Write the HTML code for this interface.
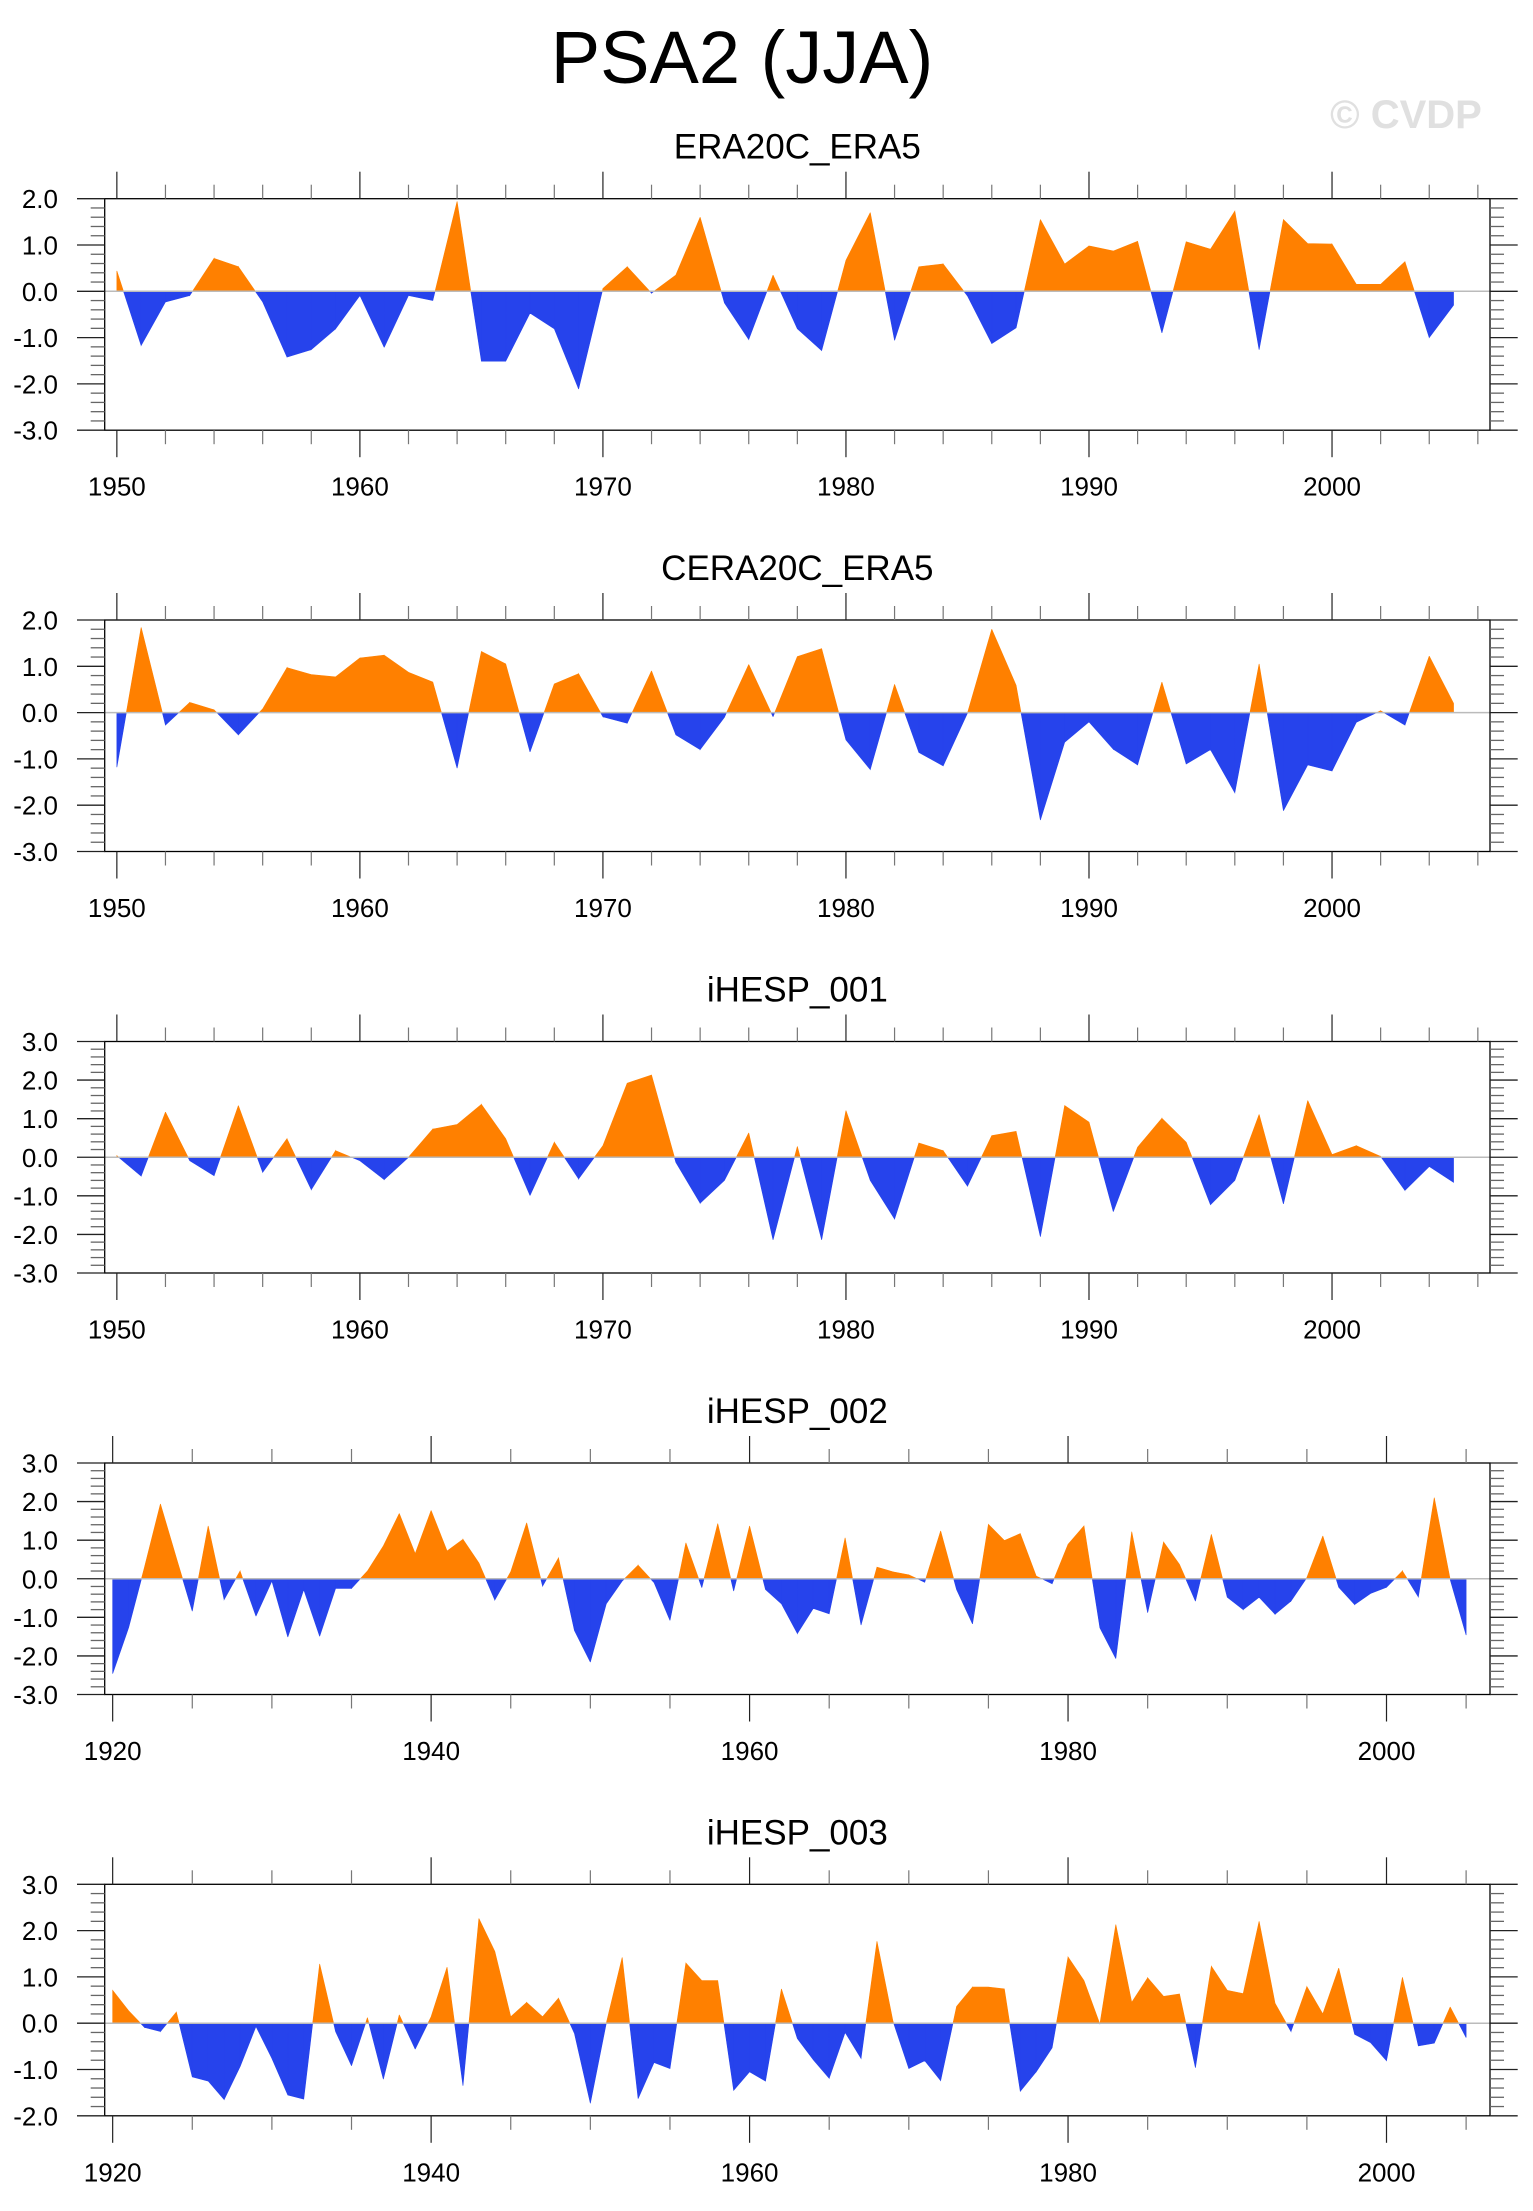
<!DOCTYPE html>
<html><head><meta charset="utf-8"><title>PSA2 (JJA)</title>
<style>
html,body{margin:0;padding:0;background:#fff;}
svg{display:block;font-family:"Liberation Sans",sans-serif;}
</style></head>
<body>
<svg id="chart" width="1533" height="2211" viewBox="0 0 1533 2211" xmlns="http://www.w3.org/2000/svg">
<rect width="1533" height="2211" fill="#fff"/>
<text x="742" y="83" font-size="74" text-anchor="middle" fill="#000">PSA2 (JJA)</text>
<text x="1406" y="128" font-size="40" font-weight="bold" text-anchor="middle" fill="#e0e0e0">© CVDP</text>
</svg>
<script>
const titles = ["ERA20C_ERA5","CERA20C_ERA5","iHESP_001","iHESP_002","iHESP_003"];
const startYears = [1950,1950,1950,1920,1920];
const yTickLabels1 = ["2.0","1.0","0.0","-1.0","-2.0","-3.0"];
const yTickLabels3 = ["3.0","2.0","1.0","0.0","-1.0","-2.0","-3.0"];
const yTickLabels5 = ["3.0","2.0","1.0","0.0","-1.0","-2.0"];
const yMax = [2,2,3,3,3];
const yMin = [-3,-3,-3,-3,-2];
const xTickLabels1950 = ["1950","1960","1970","1980","1990","2000"];
const xTickLabels1920 = ["1920","1940","1960","1980","2000"];

const era20c = [0.44,-1.17,-0.23,-0.09,0.71,0.53,-0.23,-1.42,-1.26,-0.81,-0.09,-1.21,-0.09,-0.2,1.94,-1.51,-1.51,-0.47,-0.81,-2.11,0.06,0.53,-0.04,0.35,1.6,-0.25,-1.04,0.35,-0.81,-1.28,0.67,1.7,-1.06,0.53,0.59,-0.1,-1.13,-0.79,1.55,0.59,0.98,0.87,1.08,-0.9,1.07,0.91,1.73,-1.26,1.55,1.03,1.02,0.15,0.15,0.64,-1.0,-0.3];
const cera20c = [-1.18,1.84,-0.27,0.22,0.06,-0.48,0.08,0.97,0.82,0.77,1.18,1.24,0.87,0.66,-1.2,1.32,1.05,-0.85,0.62,0.84,-0.09,-0.23,0.9,-0.48,-0.8,-0.1,1.04,-0.09,1.21,1.38,-0.59,-1.23,0.61,-0.86,-1.15,-0.01,1.8,0.59,-2.32,-0.64,-0.2,-0.79,-1.13,0.66,-1.11,-0.8,-1.73,1.05,-2.12,-1.13,-1.26,-0.21,0.04,-0.27,1.22,0.2];
const ihesp001 = [0.04,-0.49,1.17,-0.09,-0.48,1.34,-0.39,0.48,-0.84,0.17,-0.09,-0.58,0.0,0.73,0.85,1.37,0.48,-0.99,0.39,-0.56,0.3,1.92,2.13,-0.13,-1.19,-0.6,0.63,-2.14,0.28,-2.14,1.21,-0.6,-1.6,0.37,0.17,-0.75,0.56,0.67,-2.06,1.34,0.91,-1.41,0.26,1.01,0.39,-1.23,-0.6,1.11,-1.21,1.47,0.07,0.3,0.02,-0.86,-0.24,-0.65];
const ihesp002 = [-2.46,-1.27,0.3,1.94,0.54,-0.84,1.37,-0.54,0.2,-0.97,-0.06,-1.51,-0.28,-1.49,-0.25,-0.25,0.2,0.85,1.69,0.65,1.77,0.72,1.02,0.41,-0.55,0.18,1.45,-0.19,0.54,-1.34,-2.16,-0.65,-0.06,0.35,-0.1,-1.08,0.93,-0.23,1.43,-0.32,1.37,-0.28,-0.65,-1.42,-0.77,-0.91,1.06,-1.2,0.3,0.18,0.1,-0.09,1.24,-0.28,-1.17,1.41,0.99,1.17,0.07,-0.13,0.89,1.37,-1.27,-2.07,1.22,-0.88,0.95,0.37,-0.58,1.15,-0.48,-0.8,-0.48,-0.92,-0.58,0.03,1.11,-0.22,-0.67,-0.38,-0.22,0.2,-0.47,2.1,-0.02,-1.46];
const ihesp003 = [0.71,0.27,-0.09,-0.18,0.24,-1.16,-1.25,-1.65,-0.94,-0.07,-0.76,-1.55,-1.64,1.28,-0.18,-0.92,0.12,-1.21,0.18,-0.56,0.14,1.21,-1.35,2.26,1.55,0.14,0.45,0.14,0.54,-0.22,-1.73,0.0,1.42,-1.63,-0.85,-0.98,1.3,0.92,0.92,-1.45,-1.05,-1.25,0.74,-0.33,-0.79,-1.19,-0.2,-0.76,1.77,0.05,-0.98,-0.81,-1.24,0.36,0.78,0.78,0.74,-1.47,-1.05,-0.53,1.43,0.92,-0.02,2.13,0.45,0.98,0.58,0.63,-0.96,1.23,0.71,0.64,2.2,0.43,-0.18,0.79,0.2,1.19,-0.24,-0.42,-0.81,0.99,-0.49,-0.43,0.35,-0.31];

const seriesList = [era20c, cera20c, ihesp001, ihesp002, ihesp003];
const yLabelSets = [yTickLabels1, yTickLabels1, yTickLabels3, yTickLabels3, yTickLabels5];
const xLabelSets = [xTickLabels1950, xTickLabels1950, xTickLabels1950, xTickLabels1920, xTickLabels1920];

const NS = "http://www.w3.org/2000/svg";
const svg = document.getElementById("chart");
const L = 104.7, R = 1490, H = 231.5;
const tops = [198.7, 620, 1041.5, 1463, 1884.3];
const POS = "#ff8000", NEG = "#2643ec";

function mk(tag, attrs, parent) {
  const e = document.createElementNS(NS, tag);
  for (const k in attrs) e.setAttribute(k, attrs[k]);
  parent.appendChild(e);
  return e;
}

for (let p = 0; p < 5; p++) {
  const top = tops[p], bot = top + H;
  const data = seriesList[p];
  const y0 = startYears[p];
  const xmin = y0 - 0.5, xmax = 2006.5;
  const xs = yr => L + (yr - xmin) / (xmax - xmin) * (R - L);
  const ys = v => top + (yMax[p] - v) / (yMax[p] - yMin[p]) * H;

  const g = mk("g", {}, svg);
  
  

  const t = mk("text", {x: (L + R) / 2, y: top - 40, "font-size": 35, "text-anchor": "middle", fill: "#000"}, g);
  
  
  t.textContent = titles[p];

  const zy = ys(0);
  let posD = "", negD = "";
  for (let i = 0; i < data.length - 1; i++) {
    const a = data[i], b = data[i + 1];
    const xa = xs(y0 + i), xb = xs(y0 + i + 1);
    if (a >= 0 && b >= 0) {
      posD += `M${xa},${zy}L${xa},${ys(a)}L${xb},${ys(b)}L${xb},${zy}Z`;
    } else if (a <= 0 && b <= 0) {
      negD += `M${xa},${zy}L${xa},${ys(a)}L${xb},${ys(b)}L${xb},${zy}Z`;
    } else {
      const f = a / (a - b), xc = xa + f * (xb - xa);
      const s1 = `M${xa},${zy}L${xa},${ys(a)}L${xc},${zy}Z`;
      const s2 = `M${xc},${zy}L${xb},${ys(b)}L${xb},${zy}Z`;
      if (a > 0) { posD += s1; negD += s2; } else { negD += s1; posD += s2; }
    }
  }
  const pp = mk("path", {d: posD, fill: POS, stroke: POS, "stroke-width": 0.6}, g);
  
  
  const np = mk("path", {d: negD, fill: NEG, stroke: NEG, "stroke-width": 0.6}, g);
  
  

  const zl = mk("line", {x1: L, x2: R, y1: zy, y2: zy, stroke: "#bbbbbb", "stroke-width": 1.5}, g);
  
  

  const fr = mk("rect", {x: L, y: top, width: R - L, height: H, fill: "none", stroke: "#000", "stroke-width": 1.3}, g);
  
  

  const ylabs = yLabelSets[p];
  for (let v = yMax[p] * 5; v >= yMin[p] * 5; v--) {
    const val = v / 5, yy = ys(val);
    const major = (v % 5 === 0);
    const len = major ? 27.7 : 14;
    const col = major ? "#222" : "#666";
    mk("line", {x1: L - len, x2: L, y1: yy, y2: yy, stroke: col, "stroke-width": 1.3}, g);
    mk("line", {x1: R, x2: R + len, y1: yy, y2: yy, stroke: col, "stroke-width": 1.3}, g);
  }
  ylabs.forEach((lab, i) => {
    const val = yMax[p] - i;
    const tx = mk("text", {x: 58, y: ys(val) + 9.5, "font-size": 26, "text-anchor": "end", fill: "#000"}, g);
    
    
    tx.textContent = lab;
  });

  const minorStep = y0 === 1950 ? 2 : 5, majorStep = y0 === 1950 ? 10 : 20;
  for (let yr = y0; yr <= 2006; yr += minorStep) {
    const xx = xs(yr);
    const major = ((yr - y0) % majorStep === 0);
    const len = major ? 27 : 14;
    const col = major ? "#222" : "#777";
    mk("line", {x1: xx, x2: xx, y1: top - len, y2: top, stroke: col, "stroke-width": 1.2}, g);
    mk("line", {x1: xx, x2: xx, y1: bot, y2: bot + len, stroke: col, "stroke-width": 1.2}, g);
  }
  xLabelSets[p].forEach(lab => {
    const tx = mk("text", {x: xs(+lab), y: bot + 65.5, "font-size": 26, "text-anchor": "middle", fill: "#000"}, g);
    
    
    tx.textContent = lab;
  });
}
</script>
</body></html>
